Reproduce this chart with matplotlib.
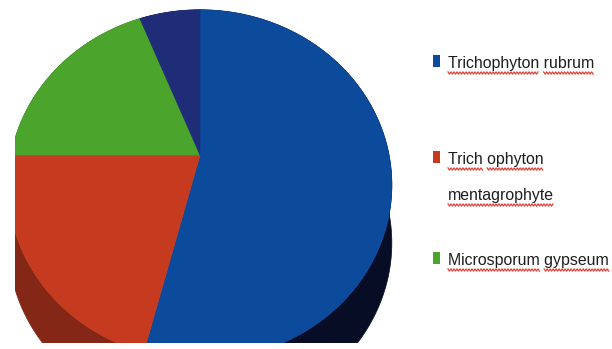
import numpy as np
import matplotlib
matplotlib.use('Agg')
import matplotlib.pyplot as plt
from matplotlib.patches import Polygon, Rectangle
from matplotlib.font_manager import FontProperties

# -------- data --------
species = ['Trichophyton rubrum', 'Trich ophyton\nmentagrophyte', 'Microsporum gypseum', 'Others']
shares = [54, 21, 19, 6]

top_colors = ['#0c4a9c', '#c63b1f', '#4ba52c', '#1f2c78']
side_colors = ['#070d24', '#842716', '#2c6a18', '#10163c']

# -------- geometry of the tilted pie (pixel units, y grows downward) --------
W, H = 612, 349
CX, CY = 200.0, 155.0      # projected centre of the pie top
A, B = 189.0, 170.0        # horizontal / vertical radius scale
K = 0.171                  # perspective factor (far rim looks smaller)
DEPTH = 58.0               # thickness of the pie wall


def project(u, v):
    d = 1.0 + K * v
    return CX + A * u / d, CY - B * v / d


fig = plt.figure(figsize=(W / 100, H / 100), dpi=100, facecolor='white')
# axes measured in pixels; its left and bottom edges cut the pie off
ax = fig.add_axes([15 / W, 6 / H, (W - 15) / W, (H - 6) / H])
ax.set_xlim(15, W)
ax.set_ylim(H - 6, 0)
ax.set_axis_off()

fracs = np.array(shares, dtype=float) / np.sum(shares)
bounds = 90.0 - 360.0 * np.concatenate([[0.0], np.cumsum(fracs)])

arcs = []
for i in range(len(shares)):
    th = np.radians(np.linspace(bounds[i], bounds[i + 1], 200))
    arcs.append(project(np.cos(th), np.sin(th)))

# pie wall: each arc swept down by DEPTH
for (x, y), col in zip(arcs, side_colors):
    xs = np.concatenate([x, x[::-1]])
    ys = np.concatenate([y, y[::-1] + DEPTH])
    ax.add_patch(Polygon(np.column_stack([xs, ys]), closed=True,
                         facecolor=col, edgecolor=col, lw=0.5, zorder=1))

# pie top
for (x, y), col in zip(arcs, top_colors):
    xs = np.concatenate([[CX], x])
    ys = np.concatenate([[CY], y])
    ax.add_patch(Polygon(np.column_stack([xs, ys]), closed=True,
                         facecolor=col, edgecolor=col, lw=0.5, zorder=2))

# -------- legend --------
renderer = fig.canvas.get_renderer()


def text_width(s, prop):
    if not s:
        return 0.0
    return renderer.get_text_width_height_descent(s, prop, ismath=False)[0]


# narrow legend font: size it so the first entry spans about 146 px
font = FontProperties(family=['Liberation Sans', 'DejaVu Sans'], size=12)
font.set_size(12 * 146.0 / text_width(species[0], font))

text_x = 448
marker_x = 433
baselines = [68, 164, 265]
line_gap = 36


def squiggle(x0, x1, y):
    xs = np.arange(x0, x1, 1.5)
    ys = y + np.where(np.arange(len(xs)) % 2, 1.1, -1.1)
    ax.plot(xs, ys, color='#e0403a', lw=0.9, zorder=3)


for label, col, base in zip(species[:3], top_colors[:3], baselines):
    ax.add_patch(Rectangle((marker_x, base - 13), 7, 12, facecolor=col,
                           edgecolor='none', zorder=3))
    for j, line in enumerate(label.split('\n')):
        y = base + j * line_gap
        ax.text(text_x, y, line, fontproperties=font, color='#1e1e1e',
                ha='left', va='baseline', zorder=3)
        # spell-check underline under each word
        pos = 0
        for word in line.split(' '):
            pre = line[:pos]
            w0 = text_width(pre, font)
            w1 = text_width(pre + word, font)
            squiggle(text_x + w0, text_x + w1, y + 5)
            pos += len(word) + 1

fig.savefig('out.png', dpi=100, facecolor='white')
